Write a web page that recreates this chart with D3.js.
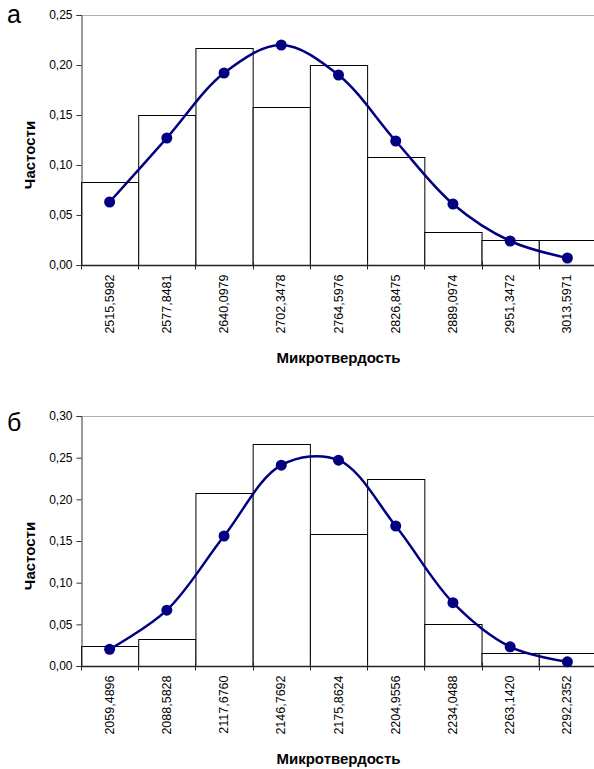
<!DOCTYPE html>
<html>
<head>
<meta charset="utf-8">
<script src="https://cdn.jsdelivr.net/npm/d3@7"></script>
<style>
  body { margin: 0; background: #fff; }
  svg { font-family: "Liberation Sans", Arial, sans-serif; }
  .axisLabel { font-size: 15px; font-weight: bold; }
</style>
</head>
<body>
<div id="chart"></div>
<script>
// panel "а"
var topLabels = ["2515,5982", "2577,8481", "2640,0979", "2702,3478", "2764,5976",
                 "2826,8475", "2889,0974", "2951,3472", "3013,5971"];
var topBars = [0.0833, 0.15, 0.2167, 0.1583, 0.2, 0.1083, 0.0333, 0.025, 0.025];
var topCurve = [0.063, 0.127, 0.192, 0.220, 0.190, 0.124, 0.061, 0.024, 0.007];
var topTicks = [0, 0.05, 0.10, 0.15, 0.20, 0.25];

// panel "б"
var botLabels = ["2059,4896", "2088,5828", "2117,6760", "2146,7692", "2175,8624",
                 "2204,9556", "2234,0488", "2263,1420", "2292,2352"];
var botBars = [0.0245, 0.033, 0.208, 0.267, 0.158, 0.2245, 0.05, 0.016, 0.016];
var botCurve = [0.020, 0.067, 0.156, 0.241, 0.247, 0.168, 0.076, 0.023, 0.005];
var botTicks = [0, 0.05, 0.10, 0.15, 0.20, 0.25, 0.30];

var width = 594, height = 769;

var svg = d3.select("#chart")
    .append("svg")
    .attr("width", width)
    .attr("height", height);

var fmt = function(d) { return d3.format(".2f")(d).replace(".", ","); };

function drawPanel(cfg) {
    var g = svg.append("g");

    var xScale = d3.scaleBand()
        .domain(cfg.labels)
        .range([cfg.left, cfg.right])
        .padding(0);

    var yScale = d3.scaleLinear()
        .domain([0, d3.max(cfg.ticks)])
        .range([cfg.bottom, cfg.top]);

    // top border of plot area
    g.append("line")
        .attr("x1", cfg.left).attr("x2", cfg.right)
        .attr("y1", yScale(d3.max(cfg.ticks)) + 0.5)
        .attr("y2", yScale(d3.max(cfg.ticks)) + 0.5)
        .attr("stroke", "#b0b0b0");

    // bars
    g.selectAll("rect.bar")
        .data(cfg.bars)
        .enter()
        .append("rect")
            .attr("class", "bar")
            .attr("x", function(d, i) { return xScale(cfg.labels[i]) + 0.5; })
            .attr("y", function(d) { return Math.round(yScale(d)) + 0.5; })
            .attr("width", xScale.bandwidth())
            .attr("height", function(d) { return cfg.bottom - Math.round(yScale(d)); })
            .attr("fill", "#fff")
            .attr("stroke", "#000")
            .attr("stroke-width", 1);

    // y axis
    var yAxis = g.append("g")
        .attr("transform", `translate(${cfg.left + 0.5},0)`)
        .call(d3.axisLeft(yScale).tickValues(cfg.ticks).tickFormat(fmt).tickSize(5).tickPadding(4));
    yAxis.select(".domain").attr("stroke", "#333");
    yAxis.selectAll(".tick line").attr("stroke", "#333");
    yAxis.selectAll("text")
        .attr("font-size", 12)
        .attr("font-family", "Liberation Sans, Arial, sans-serif")
        .attr("fill", "#000");

    // x axis: tick marks on band edges
    var edges = cfg.labels.map(function(d) { return xScale(d); }).concat([cfg.right]);
    var xAxis = g.append("g")
        .attr("transform", `translate(0,${cfg.bottom + 0.5})`);
    xAxis.append("line")
        .attr("x1", cfg.left).attr("x2", cfg.right)
        .attr("stroke", "#222").attr("stroke-width", 1.5);
    xAxis.selectAll("line.edge")
        .data(edges)
        .enter()
        .append("line")
            .attr("class", "edge")
            .attr("x1", function(d) { return Math.round(d) + 0.5; })
            .attr("x2", function(d) { return Math.round(d) + 0.5; })
            .attr("y1", -4).attr("y2", 4)
            .attr("stroke", "#222");
    xAxis.selectAll("text.tick")
        .data(cfg.labels)
        .enter()
        .append("text")
            .attr("class", "tick")
            .attr("transform", function(d) {
                return `translate(${xScale(d) + xScale.bandwidth() / 2 + 4},9) rotate(-90)`;
            })
            .attr("text-anchor", "end")
            .attr("font-size", 12.5)
            .text(function(d) { return d; });

    // curve
    var line = d3.line()
        .x(function(d, i) { return xScale(cfg.labels[i]) + xScale.bandwidth() / 2; })
        .y(function(d) { return yScale(d); })
        .curve(d3.curveCatmullRom.alpha(0.5));

    g.append("path")
        .datum(cfg.curve)
        .attr("d", line)
        .attr("fill", "none")
        .attr("stroke", "#000080")
        .attr("stroke-width", 2.5);

    g.selectAll("circle")
        .data(cfg.curve)
        .enter()
        .append("circle")
            .attr("cx", function(d, i) { return xScale(cfg.labels[i]) + xScale.bandwidth() / 2; })
            .attr("cy", function(d) { return yScale(d); })
            .attr("r", 5.5)
            .attr("fill", "#000080");

    // labels
    g.append("text")
        .attr("class", "axisLabel")
        .attr("text-anchor", "middle")
        .attr("x", (cfg.left + cfg.right) / 2)
        .attr("y", cfg.bottom + 98)
        .text("Микротвердость");

    g.append("text")
        .attr("class", "axisLabel")
        .attr("text-anchor", "middle")
        .attr("transform", `translate(35,${(cfg.top + cfg.bottom) / 2 + 15}) rotate(-90)`)
        .text("Частости");

    g.append("text")
        .attr("x", 7)
        .attr("y", cfg.letterY)
        .attr("font-size", 25)
        .text(cfg.letter);
}

drawPanel({labels: topLabels, bars: topBars, curve: topCurve, ticks: topTicks,
           left: 81, right: 596, top: 15, bottom: 265, letter: "а", letterY: 23});
drawPanel({labels: botLabels, bars: botBars, curve: botCurve, ticks: botTicks,
           left: 81, right: 596, top: 416, bottom: 666, letter: "б", letterY: 431});
</script>
</body>
</html>
